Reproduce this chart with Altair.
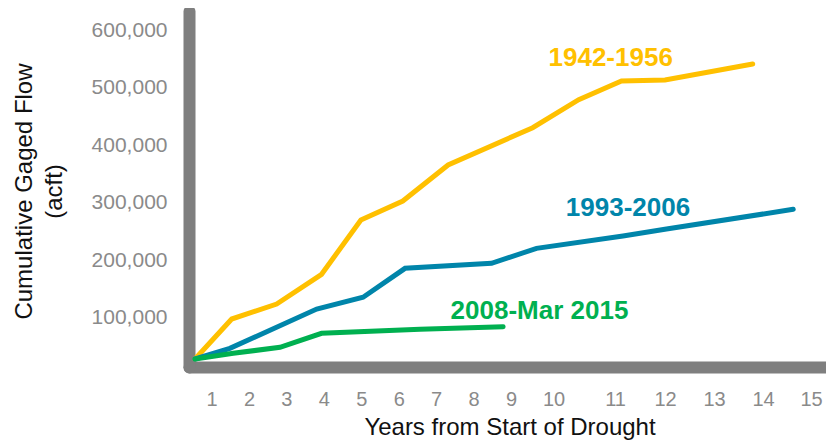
import altair as alt
import pandas as pd

# ---- data ----
series_names = ["1942-1956", "1993-2006", "2008-Mar 2015"]
series_colors = ["#FFC000", "#0085AA", "#00B050"]

years_1942 = [0.56, 1.54, 2.74, 3.94, 4.99, 6.11, 7.32, 9.51, 10.41, 11.13, 12.0, 13.79]
flow_1942 = [28000, 97600, 123700, 175400, 269900, 302900, 365600, 430500, 479200, 511700, 513500, 541300]

years_1993 = [0.56, 1.49, 3.81, 5.05, 6.17, 8.48, 9.60, 11.16, 12.03, 14.63]
flow_1993 = [28000, 46600, 115000, 135400, 185800, 194500, 220600, 242000, 254200, 288500]

years_2008 = [0.56, 1.58, 2.83, 3.94, 6.57, 8.79]
flow_2008 = [28000, 37900, 48400, 72700, 79700, 84200]

label_years = [10.93, 11.26, 9.67]
label_flows = [551800, 291600, 111500]

x_ticks = list(range(1, 16))
y_ticks = [100000, 200000, 300000, 400000, 500000, 600000]

# ---- tables ----
rows = []
for name, xs, ys in zip(series_names, [years_1942, years_1993, years_2008],
                        [flow_1942, flow_1993, flow_2008]):
    for i, (xv, yv) in enumerate(zip(xs, ys)):
        rows.append({"series": name, "year": xv, "flow": yv, "order": i})
lines_df = pd.DataFrame(rows)
labels_df = pd.DataFrame({"series": series_names, "year": label_years, "flow": label_flows})

FONT = "Liberation Sans"
GRAY = "#7F7F7F"

x_scale = alt.Scale(
    domain=[0.4, 1, 9, 10, 11, 12, 13, 14, 15, 15.3],
    range=[0, 22.5, 322, 364.5, 426, 476, 525, 574, 622, 637],
    nice=False, zero=False,
)
y_scale = alt.Scale(domain=[14100, 633550], nice=False, zero=False)
color_scale = alt.Scale(domain=series_names, range=series_colors)

x_axis = alt.Axis(
    values=x_ticks, grid=False, ticks=False, tickSize=0,
    domainWidth=12, domainColor=GRAY, domainCap="round",
    labelFont=FONT, labelFontSize=20, labelColor="#8A8A8A", labelPadding=22,
    labelFlush=False,
    title="Years from Start of Drought", titleFont=FONT, titleFontSize=24,
    titleFontWeight="normal", titleColor="#111111",
    titleX=320.5, titleY=60, titleBaseline="middle", titleAlign="center",
)
y_axis = alt.Axis(
    values=y_ticks, format=",d", grid=False, ticks=False, tickSize=0,
    domainWidth=12, domainColor=GRAY, domainCap="round",
    labelFont=FONT, labelFontSize=21, labelColor="#8A8A8A", labelPadding=22,
    labelFlush=False,
    title=["Cumulative Gaged Flow", "(acft)"], titleFont=FONT, titleFontSize=24,
    titleFontWeight="normal", titleColor="#111111", titleLineHeight=30,
    titleAngle=270, titleX=-157.5, titleY=180, titleBaseline="alphabetic",
    titleAlign="center",
)

lines = alt.Chart(lines_df).mark_line(strokeWidth=5, strokeCap="round").encode(
    x=alt.X("year:Q", scale=x_scale, axis=x_axis),
    y=alt.Y("flow:Q", scale=y_scale, axis=y_axis),
    color=alt.Color("series:N", scale=color_scale, legend=None),
    order="order:Q",
)

labels = alt.Chart(labels_df).mark_text(
    font=FONT, fontSize=26, fontWeight="bold", align="center", baseline="middle"
).encode(
    x=alt.X("year:Q", scale=x_scale),
    y=alt.Y("flow:Q", scale=y_scale),
    text="series:N",
    color=alt.Color("series:N", scale=color_scale, legend=None),
)

chart = alt.layer(lines, labels).properties(
    width=637, height=356,
    padding={"left": 181, "top": 3, "right": 0, "bottom": 73},
    autosize="none",
    background="white",
).configure_view(stroke=None)

chart.save("out.html", embed_options={"renderer": "svg", "actions": False})
